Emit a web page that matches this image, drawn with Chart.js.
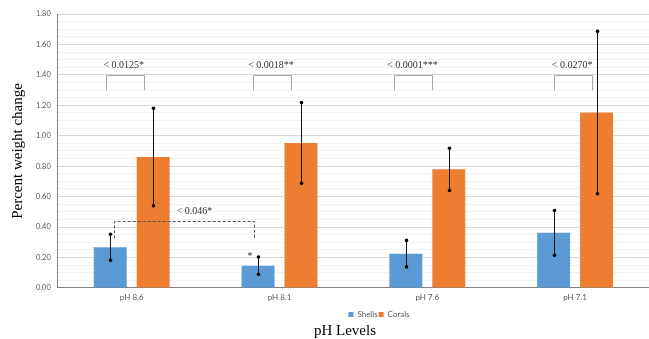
<!DOCTYPE html>
<html>
<head>
<meta charset="utf-8">
<script src="https://cdn.jsdelivr.net/npm/chart.js@4/dist/chart.umd.min.js"></script>
<style>
    body { margin: 0; background: #fff; }
    #box { width: 649px; height: 339px; }
</style>
</head>
<body>
<div id="box"><canvas id="weight-chart"></canvas></div>
<script>
// data
var categories = ['pH 8.6', 'pH 8.1', 'pH 7.6', 'pH 7.1'];
var shells = [0.267, 0.146, 0.225, 0.362];
var corals = [0.86, 0.953, 0.779, 1.152];
var shellsErr = [0.086, 0.057, 0.087, 0.147];
var coralsErr = [0.32, 0.265, 0.139, 0.534];
var pLabels = ['< 0.0125*', '< 0.0018**', '< 0.0001***', '< 0.0270*'];
var shellsPairLabel = '< 0.046*';

var serif = "'Liberation Serif', 'Times New Roman', serif";
var sans = "Lato, 'Open Sans', sans-serif";

// error bars with dots at both ends
var errorBars = {
    id: 'errorBars',
    afterDatasetsDraw: function (chart) {
        var ctx = chart.ctx;
        var y = chart.scales.y;
        var errs = [shellsErr, coralsErr];
        ctx.save();
        chart.data.datasets.forEach(function (ds, i) {
            var meta = chart.getDatasetMeta(i);
            meta.data.forEach(function (bar, j) {
                var hi = y.getPixelForValue(ds.data[j] + errs[i][j]);
                var lo = y.getPixelForValue(ds.data[j] - errs[i][j]);
                var bx = Math.round(bar.x) + 0.5;
                ctx.strokeStyle = '#111';
                ctx.lineWidth = 1;
                ctx.beginPath();
                ctx.moveTo(bx, hi);
                ctx.lineTo(bx, lo);
                ctx.stroke();
                ctx.fillStyle = '#000';
                [hi, lo].forEach(function (py) {
                    ctx.beginPath();
                    ctx.arc(bx, py, 1.8, 0, Math.PI * 2);
                    ctx.fill();
                });
            });
        });
        ctx.restore();
    }
};

// p-value brackets and notes
var bracketShift = [-7, -7.5, -14, -2];
var notes = {
    id: 'notes',
    afterDraw: function (chart) {
        var ctx = chart.ctx;
        var x = chart.scales.x;
        var y = chart.scales.y;
        ctx.save();
        ctx.font = '10px ' + serif;
        ctx.textAlign = 'center';
        ctx.textBaseline = 'middle';

        categories.forEach(function (c, i) {
            var cx = x.getPixelForValue(i) + bracketShift[i];
            var top = Math.round(y.getPixelForValue(1.40)) + 0.5;
            var bot = y.getPixelForValue(1.30);
            ctx.strokeStyle = '#a6a6a6';
            ctx.lineWidth = 1;
            ctx.beginPath();
            ctx.moveTo(Math.round(cx - 19) + 0.5, bot);
            ctx.lineTo(Math.round(cx - 19) + 0.5, top);
            ctx.lineTo(Math.round(cx + 19) + 0.5, top);
            ctx.lineTo(Math.round(cx + 19) + 0.5, bot);
            ctx.stroke();
            ctx.fillStyle = '#333';
            ctx.fillText(pLabels[i], cx - 1, y.getPixelForValue(1.46));
        });

        // dashed bracket between the first two shell bars
        var m = chart.getDatasetMeta(0);
        var x1 = Math.round(m.data[0].x + 4) + 0.5;
        var x2 = Math.round(m.data[1].x - 4) + 0.5;
        var yl = Math.round(y.getPixelForValue(0.437)) + 0.5;
        ctx.strokeStyle = '#555';
        ctx.setLineDash([3, 2]);
        ctx.beginPath();
        ctx.moveTo(x1, y.getPixelForValue(0.326));
        ctx.lineTo(x1, yl);
        ctx.lineTo(x2, yl);
        ctx.lineTo(x2, y.getPixelForValue(0.32));
        ctx.stroke();
        ctx.setLineDash([]);
        ctx.fillStyle = '#333';
        ctx.fillText(shellsPairLabel, (x1 + x2) / 2 + 10, y.getPixelForValue(0.503));
        ctx.fillText('*', m.data[1].x - 8, y.getPixelForValue(0.205));
        ctx.restore();
    }
};

// move legend and bottom title to where they sit in the figure
function moveBox(box, dx, dy) {
    box.left += dx;
    box.right += dx;
    box.top += dy;
    box.bottom += dy;
}
var shiftBoxes = {
    id: 'shiftBoxes',
    afterLayout: function (chart) {
        moveBox(chart.legend, 50, 2);
        moveBox(chart.titleBlock, 16, -4);
    }
};

new Chart(document.getElementById('weight-chart'), {
    type: 'bar',
    data: {
        labels: categories,
        datasets: [{
            label: 'Shells',
            data: shells,
            backgroundColor: '#5B9BD5'
        }, {
            label: 'Corals',
            data: corals,
            backgroundColor: '#ED7D31'
        }]
    },
    options: {
        responsive: true,
        maintainAspectRatio: false,
        animation: false,
        categoryPercentage: 0.581,
        barPercentage: 0.767,
        layout: { padding: { left: 9, right: 0, top: 14, bottom: -4 } },
        plugins: {
            tooltip: { enabled: false },
            legend: {
                position: 'bottom',
                labels: {
                    boxWidth: 5,
                    boxHeight: 5,
                    padding: 1,
                    color: '#595959',
                    font: { family: sans, size: 8 }
                }
            },
            title: {
                display: true,
                position: 'bottom',
                text: 'pH Levels',
                color: '#000',
                padding: { top: 0, bottom: 0 },
                font: { family: serif, size: 15, weight: 'normal', lineHeight: 1.1 }
            }
        },
        scales: {
            x: {
                grid: { display: false, drawTicks: false, tickLength: 0 },
                border: { color: '#808080' },
                ticks: {
                    padding: 5,
                    color: '#595959',
                    font: { family: sans, size: 8 }
                }
            },
            y: {
                min: 0,
                max: 1.8,
                border: { color: '#808080' },
                grid: {
                    drawTicks: false,
                    tickLength: 0,
                    color: function (c) { return c.index % 4 === 0 ? '#d9d9d9' : '#f2f2f2'; }
                },
                ticks: {
                    stepSize: 0.05,
                    autoSkip: false,
                    padding: 7,
                    color: '#595959',
                    font: { family: sans, size: 7.5 },
                    callback: function (v, i) { return i % 4 === 0 ? v.toFixed(2) : ''; }
                },
                title: {
                    display: true,
                    text: 'Percent weight change',
                    color: '#000',
                    padding: { top: 0, bottom: 2 },
                    font: { family: serif, size: 15 }
                }
            }
        }
    },
    plugins: [errorBars, notes, shiftBoxes]
});
</script>
</body>
</html>
